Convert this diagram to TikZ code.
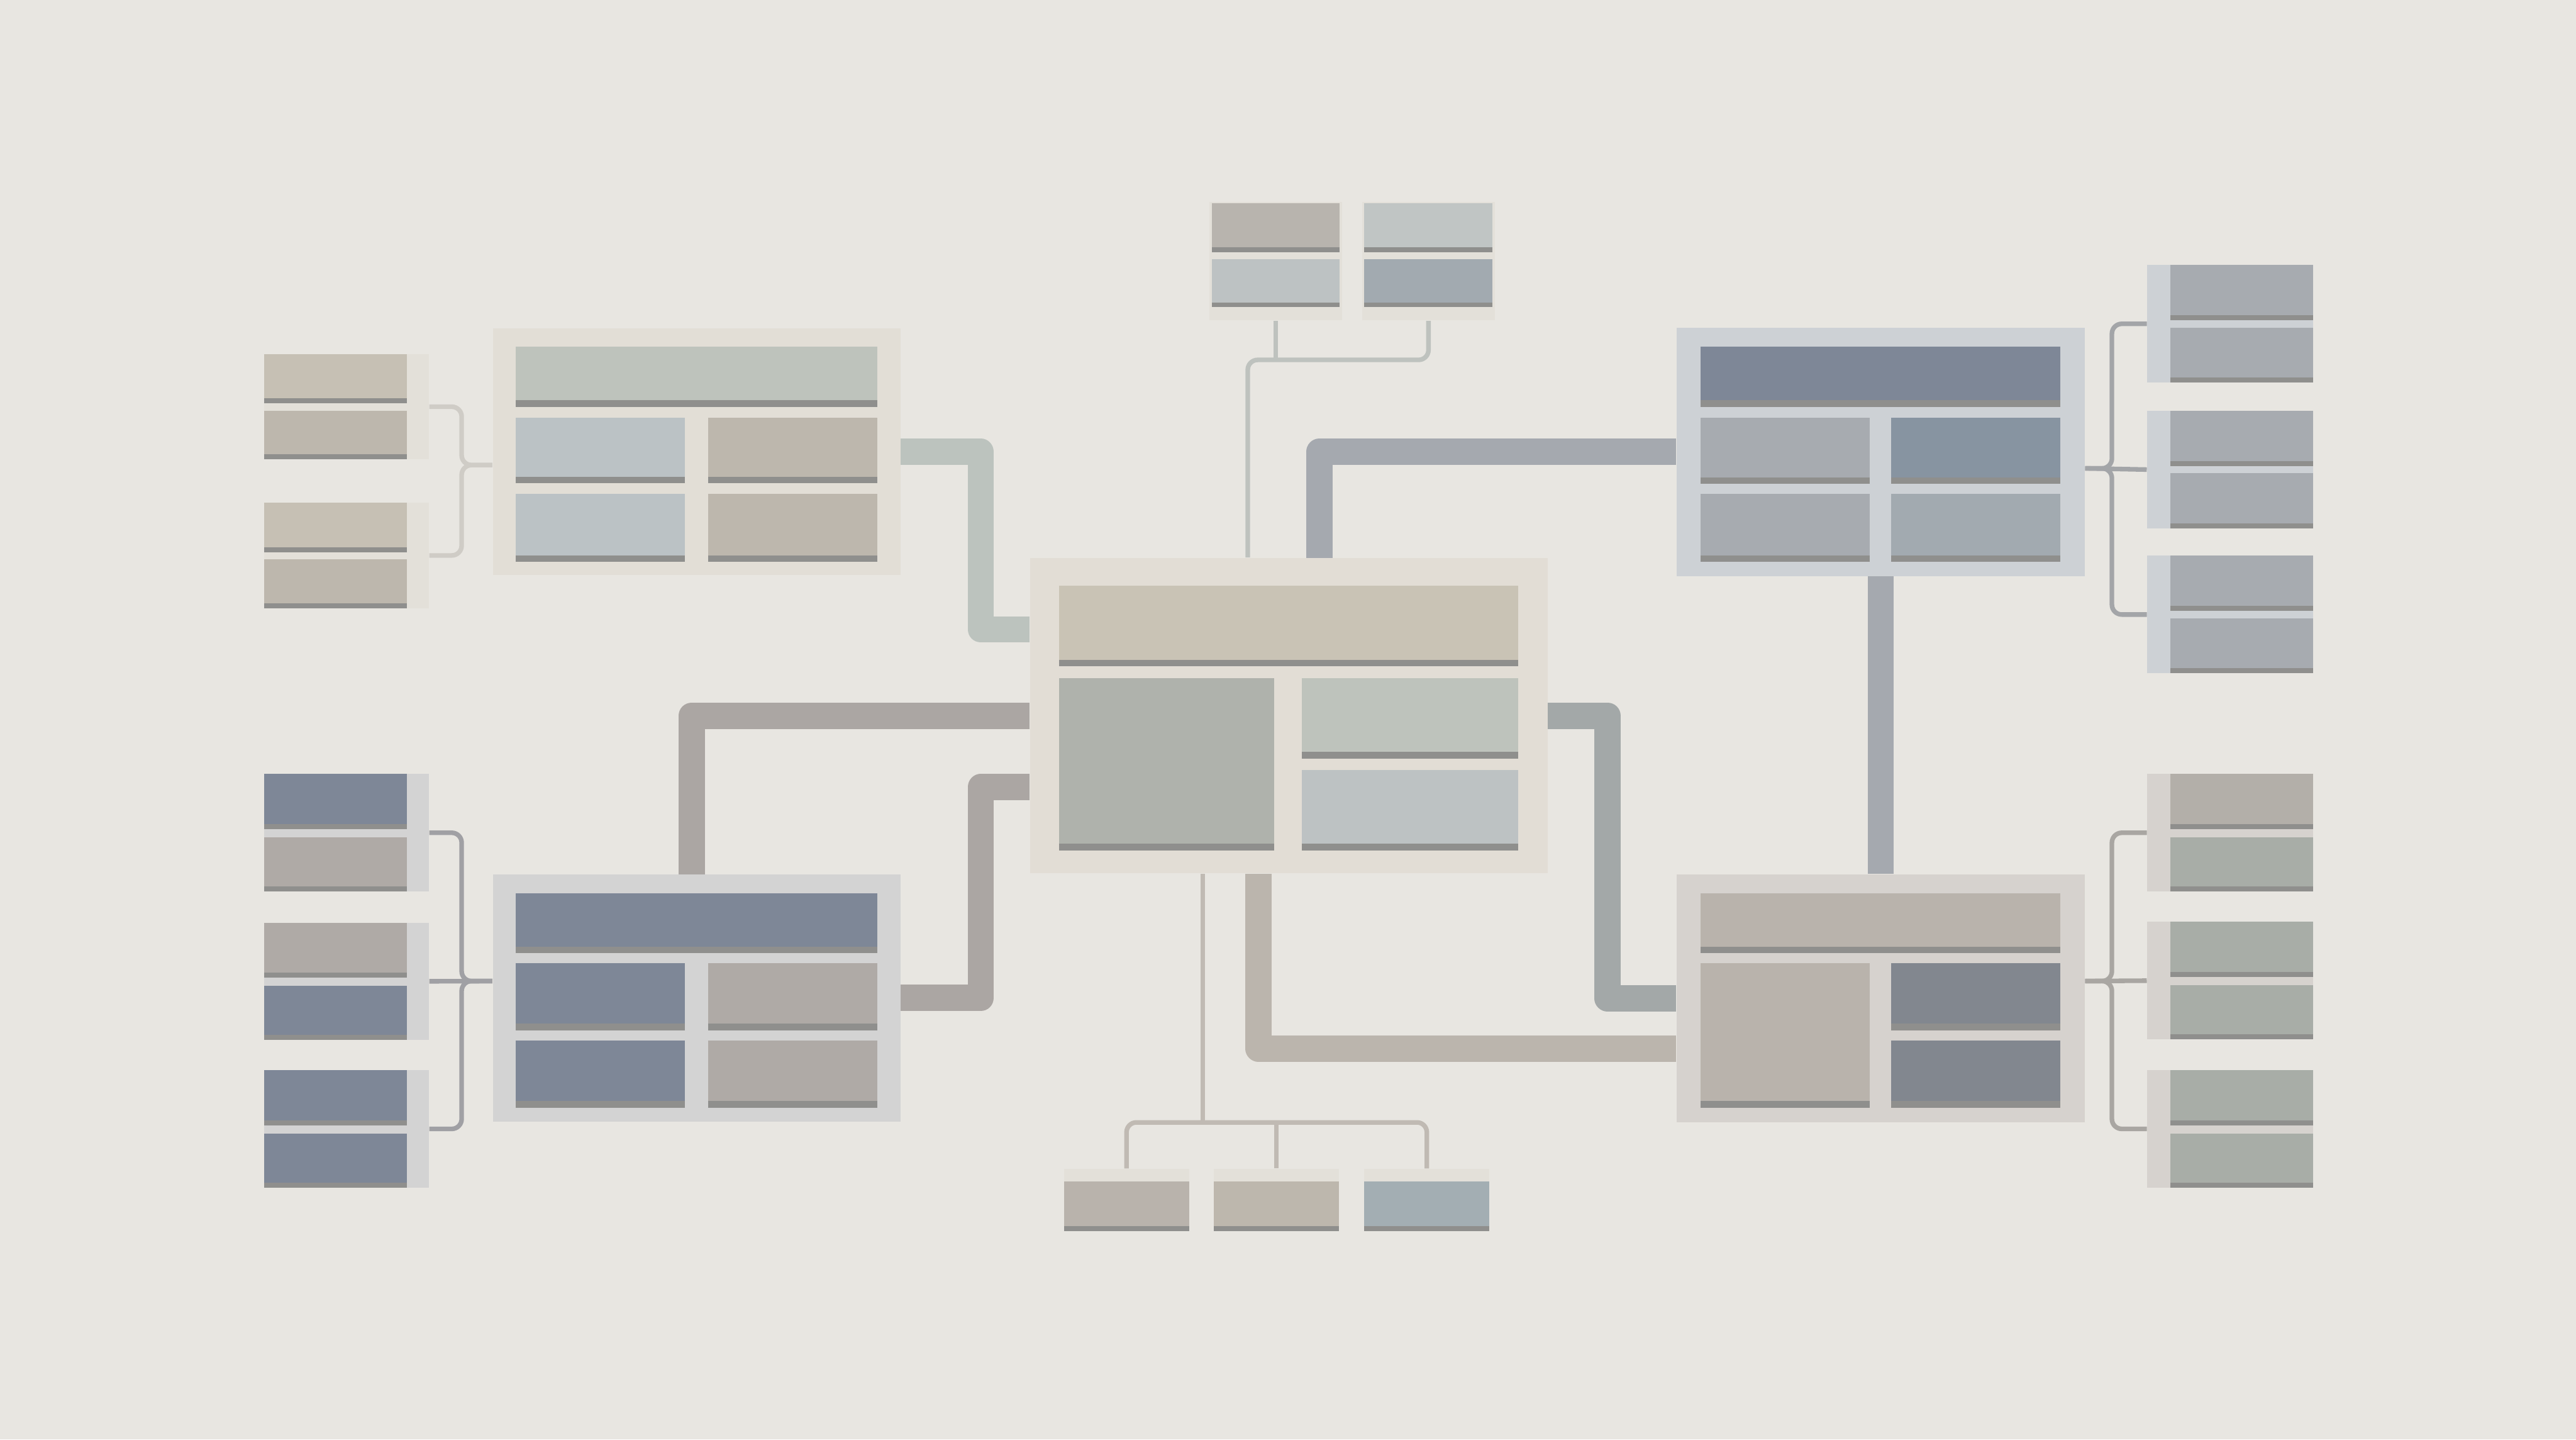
\documentclass[tikz,border=0pt]{standalone}
\usetikzlibrary{fit}

\definecolor{bgcol}{HTML}{E8E6E1}
\definecolor{stripecol}{HTML}{8F8F8D}
% frames and panels
\definecolor{tlframe}{HTML}{E2DED6}
\definecolor{cframe}{HTML}{E2DDD5}
\definecolor{trframe}{HTML}{CDD1D5}
\definecolor{blframe}{HTML}{D3D3D3}
\definecolor{brframe}{HTML}{D6D2CE}
\definecolor{paleframe}{HTML}{E3E0D9}
% cells
\definecolor{sage}{HTML}{BEC3BC}
\definecolor{mist}{HTML}{BBC2C5}
\definecolor{sand}{HTML}{BDB7AD}
\definecolor{beige}{HTML}{C9C3B5}
\definecolor{moss}{HTML}{AFB2AC}
\definecolor{fog}{HTML}{BDC2C3}
\definecolor{slate}{HTML}{7E8797}
\definecolor{steel}{HTML}{A7ABB0}
\definecolor{bluesteel}{HTML}{8794A1}
\definecolor{taupe}{HTML}{AFAAA6}
\definecolor{stone}{HTML}{B9B3AC}
\definecolor{graphite}{HTML}{82878F}
\definecolor{linen}{HTML}{C6C0B4}
\definecolor{warmgray}{HTML}{B3AFA9}
\definecolor{sagegray}{HTML}{A8ADA7}
\definecolor{pebble}{HTML}{B8B4AE}
\definecolor{frost}{HTML}{C0C5C4}
\definecolor{dusk}{HTML}{A2AAB0}
\definecolor{haze}{HTML}{A3AEB3}
% connectors
\definecolor{wgreen}{HTML}{BCC3BE}
\definecolor{wblue}{HTML}{A5A9AF}
\definecolor{wwarm}{HTML}{ABA6A3}
\definecolor{wgrey}{HTML}{A3A8A8}
\definecolor{wsand}{HTML}{BBB5AD}
\definecolor{topwire}{HTML}{BEC2BE}
\definecolor{botwire}{HTML}{C0BAB3}
\definecolor{tlbrace}{HTML}{CFCCC6}
\definecolor{blbrace}{HTML}{A0A0A4}
\definecolor{trbrace}{HTML}{A3A5A8}
\definecolor{brbrace}{HTML}{A9A6A2}

\tikzset{
  framebox/.style={fill=#1, inner sep=0pt},
  wire/.style={draw=#1, line width=4mm, line join=round},
  thinwire/.style={draw=#1, line width=0.7mm, rounded corners=1.5mm},
  bracket/.style={draw=#1, line width=0.7mm, rounded corners=1.5mm}
}

% cell with a dark stripe at its foot: [stripe]{x1}{y1}{x2}{y2}{colour}
\newcommand{\cellbox}[6][4]{%
  \fill[#6] (#2,#3) rectangle (#4,#5);
  \fill[stripecol] (#2,#5-#1) rectangle (#4,#5);
}

\begin{document}
\begin{tikzpicture}[x=0.25mm, y=-0.25mm]
    \useasboundingbox (0,0) rectangle (1568,876);
    \fill[bgcol] (0,0) rectangle (1568,876);

    % main frames
    \node[framebox=tlframe, fit={(300,200) (548,350)}] (tl) {};
    \node[framebox=cframe, fit={(627,339.5) (942,531.5)}] (c) {};
    \node[framebox=trframe, fit={(1020.5,199.5) (1269,350.5)}] (tr) {};
    \node[framebox=blframe, fit={(300,532) (548,682.5)}] (bl) {};
    \node[framebox=brframe, fit={(1020.5,532) (1269,683)}] (br) {};

    \cellbox{314}{211}{534}{247.6}{sage}
    \cellbox{314}{254}{417}{294}{mist}
    \cellbox{431}{254}{534}{294}{sand}
    \cellbox{314}{300.5}{417}{342}{mist}
    \cellbox{431}{300.5}{534}{342}{sand}

    \cellbox{644.5}{356.3}{924}{405.4}{beige}
    \cellbox{644.5}{412.7}{775.6}{517.4}{moss}
    \cellbox{792.4}{412.7}{924}{461.5}{sage}
    \cellbox{792.4}{468.5}{924}{517.4}{fog}

    \cellbox{1035}{211}{1254}{247.6}{slate}
    \cellbox{1035}{254}{1138}{294.5}{steel}
    \cellbox{1151}{254}{1254}{294.5}{bluesteel}
    \cellbox{1035}{300.5}{1138}{342}{steel}
    \cellbox{1151}{300.5}{1254}{342}{dusk}

    \cellbox{314}{543.5}{534}{580}{slate}
    \cellbox{314}{586}{417}{627}{slate}
    \cellbox{431}{586}{534}{627}{taupe}
    \cellbox{314}{633}{417}{674}{slate}
    \cellbox{431}{633}{534}{674}{taupe}

    \cellbox{1035}{543.5}{1254}{580}{stone}
    \cellbox{1035}{586}{1138}{674}{stone}
    \cellbox{1151}{586}{1254}{627}{graphite}
    \cellbox{1151}{633}{1254}{674}{graphite}

    % side groups
    \foreach \n/\y in {1/215.5, 2/306} {
        \node[framebox=paleframe, fit={(160.8,\y) (261,\y+64)}] (lp\n) {};
        \cellbox[3]{160.8}{\y}{247.7}{\y+30}{linen}
        \cellbox[3]{160.8}{\y+34.5}{247.7}{\y+64}{sand}
    }
    \foreach \n/\y/\ca/\cb in {1/471/slate/taupe, 2/561.4/taupe/slate, 3/651.2/slate/slate} {
        \node[framebox=blframe, fit={(160.8,\y) (261,\y+71.5)}] (lq\n) {};
        \cellbox[3]{160.8}{\y}{247.7}{\y+33.5}{\ca}
        \cellbox[3]{160.8}{\y+38.5}{247.7}{\y+71.5}{\cb}
    }
    \foreach \n/\y in {1/161.3, 2/250, 3/338.2} {
        \node[framebox=trframe, fit={(1307,\y) (1408,\y+71.5)}] (rp\n) {};
        \cellbox[3]{1321}{\y}{1408}{\y+33.5}{steel}
        \cellbox[3]{1321}{\y+38}{1408}{\y+71.5}{steel}
    }
    \foreach \n/\y/\ca in {1/471/warmgray, 2/561/sagegray, 3/651.2/sagegray} {
        \node[framebox=brframe, fit={(1307,\y) (1408,\y+71.5)}] (rq\n) {};
        \cellbox[3]{1321}{\y}{1408}{\y+33.5}{\ca}
        \cellbox[3]{1321}{\y+38.5}{1408}{\y+71.5}{sagegray}
    }

    % top and bottom groups
    \foreach \n/\x/\ca/\cb in {1/736/pebble/fog, 2/829/frost/dusk} {
        \node[framebox=paleframe, fit={(\x,123) (\x+81,195)}] (tp\n) {};
        \cellbox[3]{\x+1.5}{123.5}{\x+79.5}{153.4}{\ca}
        \cellbox[3]{\x+1.5}{157.6}{\x+79.5}{187}{\cb}
    }
    \foreach \n/\x/\ca in {1/647.7/stone, 2/739/sand, 3/830.5/haze} {
        \node[framebox=paleframe, fit={(\x,711.3) (\x+76,749)}] (bp\n) {};
        \cellbox[3]{\x}{719}{\x+76}{749}{\ca}
    }

    % thick connectors
    \coordinate (k1) at (597,383);
    \coordinate (k2) at (803,339.5);
    \coordinate (k3) at (421,532);
    \coordinate (k4) at (597,479);
    \coordinate (k5) at (978.5,435.5);
    \coordinate (k6) at (766,638);
    \draw[wire=wgreen] (tl.east) -| (k1) -- (k1 -| c.west);
    \draw[wire=wblue] (tr.west) -| (k2);
    \draw[wire=wblue] (tr.south) -- (br.north);
    \draw[wire=wwarm] (c.west) -| (k3);
    \draw[wire=wwarm] (k4 -| c.west) -- (k4) |- (bl.east);
    \draw[wire=wgrey] (c.east) -- (k5) |- (br.west);
    \draw[wire=wsand] (k6 |- c.south) -- (k6) -- (k6 -| br.west);

    % thin connectors
    \coordinate (k7) at (759.5,219);
    \coordinate (k8) at (732,683);
    \draw[thinwire=topwire] (k7 |- c.north) -- (k7) -| (tp2.south);
    \draw[thinwire=topwire] (tp1.south) -- (tp1.south |- k7);
    \draw[thinwire=botwire] (k8 |- c.south) -- (k8);
    \draw[thinwire=botwire] (bp1.north) |- (k8) -| (bp3.north);
    \draw[thinwire=botwire] (bp2.north) -- (bp2.north |- k8);

    % brackets
    \coordinate (k9) at (281,283);
    \coordinate (k10) at (281,597);
    \coordinate (k11) at (1285.5,285);
    \coordinate (k12) at (1285.5,597);
    \draw[bracket=tlbrace] (lp1.east) -| (k9) -- (k9 -| tl.west);
    \draw[bracket=tlbrace] (lp2.east) -| (k9) -- (k9 -| tl.west);
    \draw[bracket=blbrace] (lq1.east) -| (k10) -- (k10 -| bl.west);
    \draw[bracket=blbrace] (lq3.east) -| (k10) -- (k10 -| bl.west);
    \draw[bracket=blbrace] (lq2.east) -- (k10 -| bl.west);
    \draw[bracket=trbrace] (rp1.west) -| (k11) -- (k11 -| tr.east);
    \draw[bracket=trbrace] (rp3.west) -| (k11) -- (k11 -| tr.east);
    \draw[bracket=trbrace] (rp2.west) -- (k11 -| tr.east);
    \draw[bracket=brbrace] (rq1.west) -| (k12) -- (k12 -| br.east);
    \draw[bracket=brbrace] (rq3.west) -| (k12) -- (k12 -| br.east);
    \draw[bracket=brbrace] (rq2.west) -- (k12 -| br.east);
\end{tikzpicture}
\end{document}
